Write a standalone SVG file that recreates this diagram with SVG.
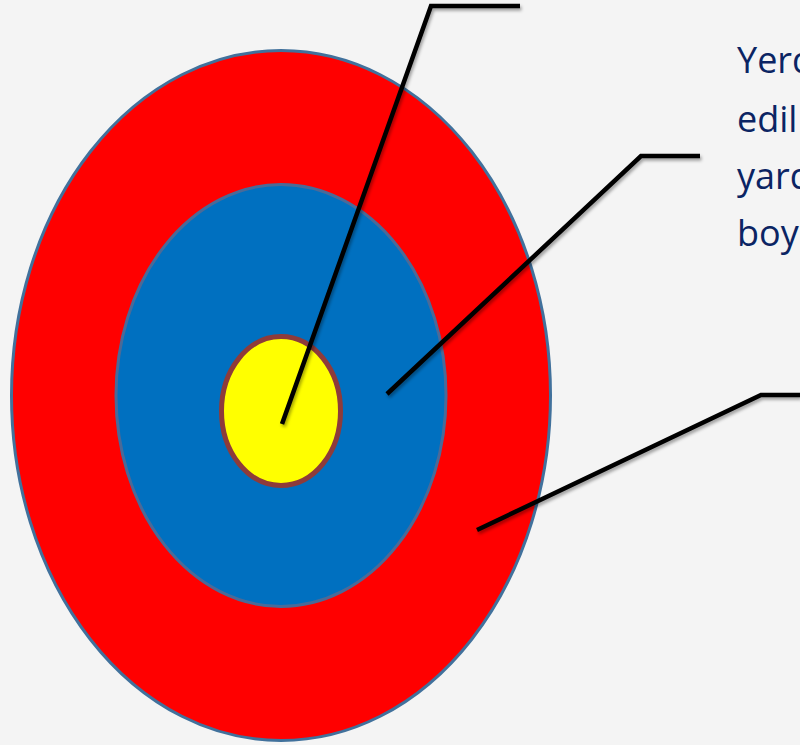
<svg xmlns="http://www.w3.org/2000/svg" width="800" height="745" viewBox="0 0 800 745">
  <style>
    .conn { fill: none; stroke: #000; stroke-width: 4.5; stroke-linejoin: miter; stroke-linecap: butt; filter: url(#shadow); }
    .label { font-family: "Open Sans", "Liberation Sans", sans-serif; font-size: 36px; fill: #0B2463; }
  </style>
  <defs>
    <filter id="shadow" x="-20%" y="-20%" width="140%" height="140%">
      <feDropShadow dx="1.5" dy="2.5" stdDeviation="1.5" flood-color="#000" flood-opacity="0.35"/>
    </filter>
  </defs>
  <rect width="800" height="745" fill="#F4F4F4"/>
  <g id="outer-ring">
    <ellipse cx="281" cy="395.5" rx="269.5" ry="345" fill="#FF0000" stroke="#41719C" stroke-width="3"/>
  </g>
  <g id="middle-ring">
    <ellipse cx="281" cy="395.5" rx="165" ry="211" fill="#0070C0" stroke="#4A6A98" stroke-width="3"/>
  </g>
  <g id="bullseye">
    <ellipse cx="281" cy="411" rx="59.5" ry="74.5" fill="#FFFF00" stroke="#8E3B3A" stroke-width="5"/>
  </g>
  <g id="connectors">
    <polyline class="conn" points="282,424 431,6 520,6"/>
    <polyline class="conn" points="387,394 641,156 700,156"/>
    <polyline class="conn" points="477,530 761,395 800,395"/>
  </g>
  <g id="label">
    <text class="label" x="737" y="73">Yerd</text>
    <text class="label" x="737" y="132">edil</text>
    <text class="label" x="737" y="189">yard</text>
    <text class="label" x="737" y="246">boy</text>
  </g>
</svg>
